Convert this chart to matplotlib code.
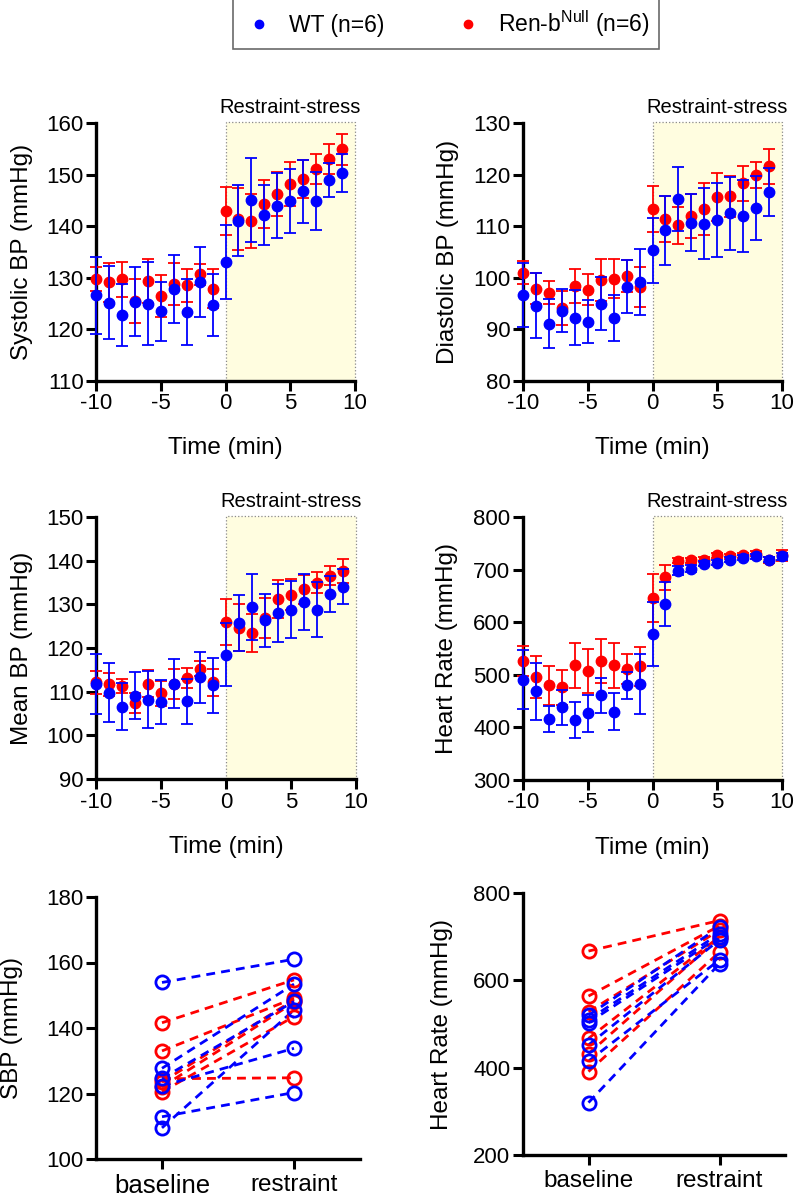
import matplotlib
matplotlib.use("Agg")
import matplotlib.pyplot as plt
from matplotlib.lines import Line2D
import numpy as np

plt.rcParams['font.family'] = ['Liberation Sans', 'DejaVu Sans']
plt.rcParams['mathtext.fontset'] = 'custom'
plt.rcParams['mathtext.rm'] = 'Liberation Sans'
plt.rcParams['axes.unicode_minus'] = False

BLUE = '#0000FF'
RED = '#FF0000'

# ---------------- data ----------------
time_bp = list(range(-10, 10))   # -10 .. 9
time_hr = list(range(-10, 11))   # -10 .. 10

sbp_wt = [126.6, 125.2, 122.8, 125.4, 125.0, 123.5, 127.9, 123.3, 129.2, 124.8,
          133.0, 141.1, 145.1, 142.2, 144.0, 144.9, 146.8, 144.9, 149.0, 150.3]
sbp_wt_sem = [7.5, 7.0, 6.0, 6.7, 8.0, 5.7, 6.6, 6.4, 6.8, 6.0,
              7.2, 6.8, 8.1, 5.8, 6.3, 6.2, 6.1, 5.6, 3.3, 3.6]
sbp_ko = [129.7, 129.1, 129.7, 125.5, 129.4, 126.5, 128.8, 128.6, 130.7, 127.9,
          142.9, 141.4, 141.0, 144.3, 146.2, 148.2, 149.2, 151.0, 153.0, 154.9]
sbp_ko_sem = [2.3, 3.8, 3.4, 4.2, 4.2, 4.0, 4.1, 3.2, 2.0, 3.8,
              4.7, 6.1, 5.2, 4.6, 4.3, 4.2, 3.7, 2.9, 2.9, 3.0]

dbp_wt = [96.6, 94.6, 91.1, 93.6, 92.3, 91.5, 95.0, 92.2, 98.3, 99.1,
          105.3, 109.2, 115.2, 110.7, 110.5, 111.2, 112.5, 112.0, 113.5, 116.6]
dbp_wt_sem = [6.2, 6.3, 4.8, 4.2, 5.4, 4.2, 5.2, 4.5, 5.2, 6.4,
              6.3, 6.7, 6.2, 5.5, 6.9, 7.2, 7.1, 7.0, 6.2, 4.7]
dbp_ko = [101.0, 97.9, 97.1, 94.1, 98.5, 97.7, 99.6, 99.8, 100.3, 98.2,
          113.3, 111.4, 110.2, 112.0, 113.3, 115.7, 115.8, 118.3, 120.0, 121.6]
dbp_ko_sem = [2.2, 3.0, 2.2, 3.3, 3.3, 3.0, 4.0, 3.8, 3.1, 3.9,
              4.4, 4.5, 3.6, 4.3, 5.0, 4.7, 4.0, 3.4, 2.5, 3.4]

map_wt = [111.8, 109.8, 106.6, 109.1, 108.2, 107.6, 111.8, 107.8, 113.3, 111.5,
          118.5, 125.7, 129.4, 126.3, 128.0, 128.8, 130.5, 128.8, 132.4, 134.0]
map_wt_sem = [6.8, 6.7, 5.4, 5.3, 6.6, 5.0, 5.6, 5.2, 5.8, 6.3,
              7.2, 6.5, 7.6, 6.1, 6.6, 6.5, 6.4, 6.3, 4.1, 4.0]
map_ko = [112.1, 111.7, 111.2, 107.4, 111.8, 109.6, 111.8, 113.1, 115.3, 112.1,
          125.9, 124.6, 123.4, 126.9, 131.2, 132.2, 133.4, 135.0, 136.6, 137.6]
map_ko_sem = [2.7, 2.6, 1.6, 2.2, 3.1, 2.9, 3.5, 2.3, 1.7, 3.2,
              5.3, 5.4, 4.3, 4.6, 4.3, 3.6, 3.3, 2.5, 2.1, 2.8]

hr_wt = [491, 469, 416, 438, 414, 427, 461, 430, 480, 482,
         577, 635, 698, 702, 711, 713, 719, 723, 725, 719, 725]
hr_wt_sem = [56, 54, 25, 34, 35, 35, 33, 35, 26, 57,
             61, 42, 8, 6, 5, 5, 5, 5, 5, 5, 6]
hr_ko = [526, 496, 480, 476, 518, 507, 526, 518, 511, 516,
         646, 685, 717, 718, 719, 727, 725, 727, 730, 718, 727]
hr_ko_sem = [28, 40, 37, 34, 43, 42, 42, 43, 28, 37,
             46, 24, 5, 5, 5, 5, 5, 5, 5, 6, 11]

conditions = ['baseline', 'restraint']
sbp_pair_wt_base = [153.9, 127.7, 124.6, 122.3, 112.9, 109.5]
sbp_pair_wt_rest = [161.0, 153.4, 148.1, 133.8, 120.3, 145.5]
sbp_pair_ko_base = [141.6, 133.0, 124.5, 123.5, 122.0, 120.5]
sbp_pair_ko_rest = [154.7, 149.1, 124.8, 148.6, 147.8, 143.5]

hr_pair_wt_base = [520, 510, 503, 452, 415, 320]
hr_pair_wt_rest = [722, 707, 700, 693, 647, 638]
hr_pair_ko_base = [667, 564, 528, 467, 432, 391]
hr_pair_ko_rest = [737, 725, 715, 700, 698, 665]

# ---------------- figure ----------------
W, H = 799, 1199
fig = plt.figure(figsize=(W / 100, H / 100), dpi=100)


def px_axes(left, top, right, bottom):
    return fig.add_axes([left / W, 1 - bottom / H, (right - left) / W, (bottom - top) / H])


TICK_FS = 16
LABEL_FS = 17.5


def style(ax):
    for s in ['top', 'right']:
        ax.spines[s].set_visible(False)
    for s in ['left', 'bottom']:
        ax.spines[s].set_linewidth(2.4)
    ax.tick_params(axis='both', which='major', direction='out', length=7, width=2.2,
                   labelsize=TICK_FS, pad=2)


def time_panel(ax, t, wt, wt_sem, ko, ko_sem, ylim, yticks, ylabel, ylab_x):
    style(ax)
    ax.axvspan(0, 10, ymin=0, ymax=1.005, facecolor='#FFFDE0', edgecolor='#8a8a8a',
               linestyle=':', linewidth=0.9, zorder=0, clip_on=False)
    ax.errorbar(t, ko, yerr=ko_sem, fmt='o', color=RED, ecolor=RED, ms=7.5,
                elinewidth=1.3, capsize=4.5, capthick=1.3, clip_on=False, zorder=3)
    ax.errorbar(t, wt, yerr=wt_sem, fmt='o', color=BLUE, ecolor=BLUE, ms=7.5,
                elinewidth=1.3, capsize=4.5, capthick=1.3, clip_on=False, zorder=4)
    ax.set_xlim(-10, 10)
    ax.set_ylim(*ylim)
    ax.set_xticks([-10, -5, 0, 5, 10])
    ax.set_yticks(yticks)
    ax.set_xlabel('Time (min)', fontsize=LABEL_FS)
    ax.xaxis.set_label_coords(0.5, -0.26)
    ax.xaxis.label.set_verticalalignment('center')
    ax.set_ylabel(ylabel, fontsize=LABEL_FS)
    ax.yaxis.set_label_coords(ylab_x, 0.5)
    ax.yaxis.label.set_verticalalignment('center')
    ax.text(5, 1.06, 'Restraint-stress', transform=ax.get_xaxis_transform(),
            ha='center', va='center', fontsize=14.5)


ax1 = px_axes(96, 123, 355, 381)
time_panel(ax1, time_bp, sbp_wt, sbp_wt_sem, sbp_ko, sbp_ko_sem, (110, 160),
           np.arange(110, 161, 10), 'Systolic BP (mmHg)', -0.285)

ax2 = px_axes(523, 123, 782, 381)
time_panel(ax2, time_bp, dbp_wt, dbp_wt_sem, dbp_ko, dbp_ko_sem, (80, 130),
           np.arange(80, 131, 10), 'Diastolic BP (mmHg)', -0.29)

ax3 = px_axes(96, 517, 356, 779)
time_panel(ax3, time_bp, map_wt, map_wt_sem, map_ko, map_ko_sem, (90, 150),
           np.arange(90, 151, 10), 'Mean BP (mmHg)', -0.285)

ax4 = px_axes(523, 517, 782, 780)
time_panel(ax4, time_hr, hr_wt, hr_wt_sem, hr_ko, hr_ko_sem, (300, 800),
           np.arange(300, 801, 100), 'Heart Rate (mmHg)', -0.295)


def pair_panel(ax, wt_b, wt_r, ko_b, ko_r, ylim, yticks, ylabel, ylab_x, base_fs):
    style(ax)
    for b, r in zip(ko_b, ko_r):
        ax.plot([0, 1], [b, r], color=RED, ls=(0, (3.2, 2.2)), lw=2.0, zorder=2)
    for b, r in zip(wt_b, wt_r):
        ax.plot([0, 1], [b, r], color=BLUE, ls=(0, (3.2, 2.2)), lw=2.0, zorder=2)
    for b, r in zip(ko_b, ko_r):
        ax.plot([0, 1], [b, r], ls='none', marker='o', ms=9.5, mfc='none', mec=RED,
                mew=2.0, zorder=3)
    for b, r in zip(wt_b, wt_r):
        ax.plot([0, 1], [b, r], ls='none', marker='o', ms=9.5, mfc='none', mec=BLUE,
                mew=2.0, zorder=4)
    ax.set_xlim(-0.5, 1.5)
    ax.set_ylim(*ylim)
    ax.set_yticks(yticks)
    ax.set_xticks([0, 1])
    ax.set_xticklabels(conditions)
    ax.get_xticklabels()[0].set_fontsize(base_fs)
    ax.get_xticklabels()[1].set_fontsize(17.5)
    ax.tick_params(axis='x', pad=4)
    ax.set_ylabel(ylabel, fontsize=LABEL_FS)
    ax.yaxis.set_label_coords(ylab_x, 0.5)
    ax.yaxis.label.set_verticalalignment('center')


ax5 = px_axes(96, 897, 360, 1159)
pair_panel(ax5, sbp_pair_wt_base, sbp_pair_wt_rest, sbp_pair_ko_base, sbp_pair_ko_rest,
           (100, 180), np.arange(100, 181, 20), 'SBP (mmHg)', -0.318, 18.5)

ax6 = px_axes(523, 893, 785, 1155)
pair_panel(ax6, hr_pair_wt_base, hr_pair_wt_rest, hr_pair_ko_base, hr_pair_ko_rest,
           (200, 800), np.arange(200, 801, 200), 'Heart Rate (mmHg)', -0.31, 17.5)

handles = [Line2D([], [], ls='none', marker='o', ms=6, color=BLUE),
           Line2D([], [], ls='none', marker='o', ms=6, color=RED)]
leg = fig.legend(handles, ['WT (n=6)', r'Ren-b$^{\mathrm{Null}}$ (n=6)'],
                 loc='center', bbox_to_anchor=(446 / W, 1 - 24 / H), ncol=2,
                 fontsize=16.5, frameon=True, fancybox=False, edgecolor='#444444',
                 columnspacing=2.9, handletextpad=0.55, borderpad=0.4, handlelength=1.5)
leg.get_frame().set_linewidth(1.2)

fig.savefig('out.png', dpi=100)
